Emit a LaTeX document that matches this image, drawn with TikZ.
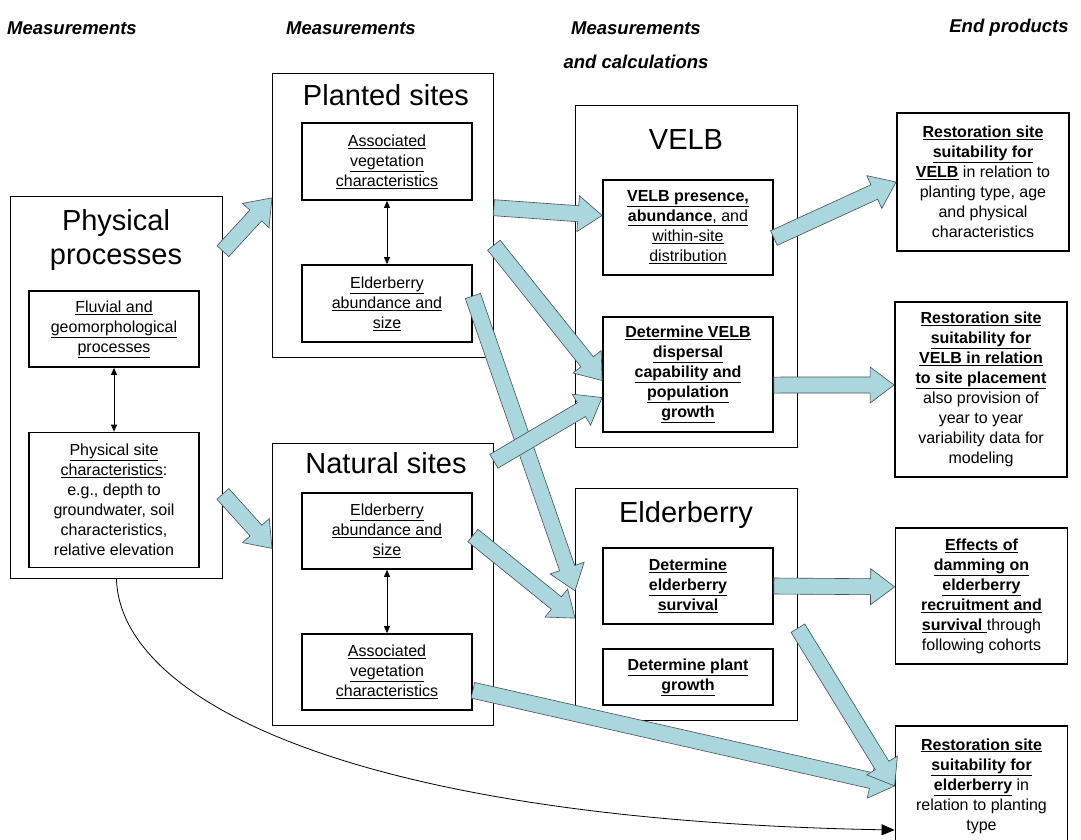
\documentclass[tikz,border=0pt]{standalone}
\usepackage{fontspec}
\setmainfont{Liberation Sans}
\usetikzlibrary{calc, arrows.meta}

\definecolor{arrowblue}{RGB}{170,214,222}
\definecolor{arrowline}{RGB}{70,80,85}

\newcommand{\ul}[1]{\underline{#1}}
\newcommand{\ub}[1]{\underline{\textbf{#1}}}

% wide block arrow from one anchor to another
\newcommand{\bigarrow}[2]{%
  \coordinate (h) at ($(#2)!24pt!(#1)$);
  \draw[bigarr] ($(#1)!8pt!90:(#2)$) -- ($(h)!8pt!90:(#2)$) -- ($(h)!18pt!90:(#2)$) -- (#2)
    -- ($(h)!18pt!-90:(#2)$) -- ($(h)!8pt!-90:(#2)$) -- ($(#1)!8pt!-90:(#2)$) -- cycle;
}

\tikzset{
  outerbox/.style={draw, line width=0.9pt, anchor=north west, inner sep=0pt},
  innerbox/.style={draw, line width=1.8pt, align=center, minimum width=170, inner sep=2pt, font=\fontsize{16}{20}\selectfont},
  endbox/.style={innerbox, minimum width=172},
  boxtitle/.style={font=\fontsize{29}{34}\selectfont, align=center},
  heading/.style={font=\fontsize{18.5}{34}\selectfont\bfseries\itshape, align=center},
  bigarr/.style={draw=arrowline, line width=0.6pt, fill=arrowblue, line join=miter},
  link/.style={{Triangle[width=6pt,length=7pt]}-{Triangle[width=6pt,length=7pt]}, line width=0.8pt},
}

\begin{document}
\begin{tikzpicture}[x=1pt, y=-1pt]
    \useasboundingbox (0,0) rectangle (1081,839);
    \fill[white] (0,0) rectangle (1081,839);

    % column headings
    \node[heading] (H1) at (72,28) {Measurements};
    \node[heading] (H2) at (351,28) {Measurements};
    \node[heading] (H3) at (636,45) {Measurements\\and calculations};
    \node[heading] (H4) at (1009,28) {End products};

    % physical processes
    \node[outerbox, minimum width=212, minimum height=382] (Phys) at (10,196) {};
    \node[boxtitle] (PhysT) at (116,240) {Physical\\processes};
    \node[innerbox, minimum height=76] (Fluv) at (114,329) {\ul{Fluvial and}\\\ul{geomorphological}\\\ul{processes}};
    \node[innerbox, minimum height=135] (Site) at (114,500) {\ul{Physical site}\\\ul{characteristics}:\\e.g., depth to\\groundwater, soil\\characteristics,\\relative elevation};
    \draw[link] (Fluv) -- (Site);

    % planted sites
    \node[outerbox, minimum width=221, minimum height=284] (Plan) at (272,73) {};
    \node[boxtitle] (PlanT) at (386,95) {Planted sites};
    \node[innerbox, minimum height=77] (PVeg) at (387,161.5) {\ul{Associated}\\\ul{vegetation}\\\ul{characteristics}};
    \node[innerbox, minimum height=77] (PEld) at (387,303.5) {\ul{Elderberry}\\\ul{abundance and}\\\ul{size}};
    \draw[link] (PVeg) -- (PEld);

    % natural sites
    \node[outerbox, minimum width=221, minimum height=282] (Nat) at (272,443) {};
    \node[boxtitle] (NatT) at (386,463) {Natural sites};
    \node[innerbox, minimum height=76] (NEld) at (387,531) {\ul{Elderberry}\\\ul{abundance and}\\\ul{size}};
    \node[innerbox, minimum height=76] (NVeg) at (387,672) {\ul{Associated}\\\ul{vegetation}\\\ul{characteristics}};
    \draw[link] (NEld) -- (NVeg);

    % VELB
    \node[outerbox, minimum width=222, minimum height=342] (Velb) at (575,105) {};
    \node[boxtitle] (VelbT) at (686,140) {VELB};
    \node[innerbox, minimum height=95] (VPres) at (688,227.5) {\ub{VELB presence,}\\\underline{\textbf{abundance}, and}\\\ul{within-site}\\\ul{distribution}};
    \node[innerbox, minimum height=115] (VDisp) at (688,374.5) {\ub{Determine VELB}\\\ub{dispersal}\\\ub{capability and}\\\ub{population}\\\ub{growth}};

    % elderberry
    \node[outerbox, minimum width=222, minimum height=232] (Eld) at (575,488) {};
    \node[boxtitle] (EldT) at (686,515) {Elderberry};
    \node[innerbox, minimum height=76] (ESurv) at (688,586) {\ub{Determine}\\\ub{elderberry}\\\ub{survival}};
    \node[innerbox, minimum height=56] (EGrow) at (688,677) {\ub{Determine plant}\\\ub{growth}};

    % end products
    \node[endbox, minimum height=138] (R1) at (983,182) {\ub{Restoration site}\\\ub{suitability for}\\\ub{VELB} in relation to\\planting type, age\\and physical\\characteristics};
    \node[endbox, minimum height=175] (R2) at (981,389.5) {\ub{Restoration site}\\\ub{suitability for}\\\ub{VELB in relation}\\\ub{to site placement}\\also provision of\\year to year\\variability data for\\modeling};
    \node[endbox, minimum height=136] (R3) at (981.5,596) {\ub{Effects of}\\\ub{damming on}\\\ub{elderberry}\\\ub{recruitment and}\\\ub{survival\ }through\\following cohorts};
    \node[endbox, minimum height=120, anchor=north] (R4) at (981.5,725) {\ub{Restoration site}\\\ub{suitability for}\\\ub{elderberry} in\\relation to planting\\type};

    \draw[-{Triangle[width=11pt,length=13pt]}, line width=0.8pt] (Phys.south) .. controls (120,700) and (350,820) .. ($(R4.north west)+(0,105)$);

    % block arrows
    \bigarrow{Phys.52}{Plan.171}
    \bigarrow{Phys.-45}{Nat.162}
    \bigarrow{Plan.4}{VPres.172}
    \bigarrow{Plan.-15}{VDisp.184}
    \bigarrow{PEld.5}{Eld.173}
    \bigarrow{Nat.48}{VDisp.195}
    \bigarrow{NEld.-3}{Eld.187}
    \bigarrow{NVeg.-12}{R4.180}
    \bigarrow{VPres.-7}{R1.180}
    \bigarrow{VDisp.-7}{R2.177}
    \bigarrow{ESurv.0}{R3.174}
    \bigarrow{Eld.-12}{R4.180}
\end{tikzpicture}
\end{document}
